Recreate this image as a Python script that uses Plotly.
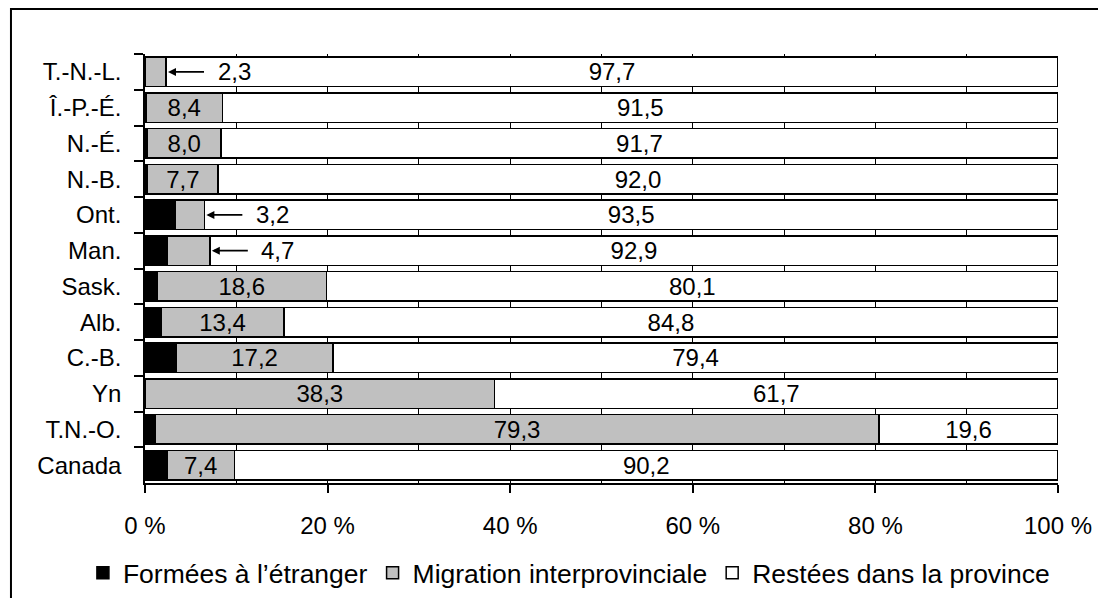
import plotly.graph_objects as go

# Provinces / territories, top to bottom
categories = ["T.-N.-L.", "Î.-P.-É.", "N.-É.", "N.-B.", "Ont.", "Man.",
              "Sask.", "Alb.", "C.-B.", "Yn", "T.N.-O.", "Canada"]

# Share of each group (%)
formees_etranger = [0.0, 0.1, 0.3, 0.3, 3.3, 2.4, 1.3, 1.8, 3.4, 0.0, 1.1, 2.4]
migration_interprov = [2.3, 8.4, 8.0, 7.7, 3.2, 4.7, 18.6, 13.4, 17.2, 38.3, 79.3, 7.4]
restees_province = [97.7, 91.5, 91.7, 92.0, 93.5, 92.9, 80.1, 84.8, 79.4, 61.7, 19.6, 90.2]

series_names = ["Formées à l’étranger", "Migration interprovinciale", "Restées dans la province"]
x_ticks = [0, 20, 40, 60, 80, 100]
x_tick_text = [f"{v} %" for v in x_ticks]

# Rows whose interprovincial share is too narrow to hold its label
callout_rows = ["T.-N.-L.", "Ont.", "Man."]

FONT = "Liberation Sans"
FS = 24
edge = dict(color="black", width=1.5)

fig = go.Figure()
fig.add_trace(go.Bar(
    y=categories, x=formees_etranger, name=series_names[0], orientation="h",
    marker=dict(color="black", line=edge), hoverinfo="x+y",
))
fig.add_trace(go.Bar(
    y=categories, x=migration_interprov, name=series_names[1], orientation="h",
    marker=dict(color="#c0c0c0", line=edge),
    texttemplate=["" if c in callout_rows else "%{x:.1f}" for c in categories],
    textposition="inside", insidetextanchor="middle", textangle=0,
    textfont=dict(family=FONT, size=FS, color="black"),
))
fig.add_trace(go.Bar(
    y=categories, x=restees_province, name=series_names[2], orientation="h",
    marker=dict(color="white", line=edge),
    texttemplate="%{x:.1f}",
    textposition="inside", insidetextanchor="middle", textangle=0,
    textfont=dict(family=FONT, size=FS, color="black"),
))

# Arrow call-outs for the narrow grey segments
for cat in callout_rows:
    i = categories.index(cat)
    end = formees_etranger[i] + migration_interprov[i]
    fig.add_annotation(
        x=end, y=cat, xref="x", yref="y",
        ax=68, ay=0,
        text=f"{migration_interprov[i]:.1f}".replace(".", ","),
        showarrow=True, arrowhead=2, arrowsize=1, arrowwidth=1.6,
        arrowcolor="black", standoff=2, startstandoff=12,
        font=dict(family=FONT, size=FS, color="black"),
    )

# Outer frame around the figure
fig.add_shape(type="rect", xref="paper", yref="paper",
              x0=-0.1468, x1=1.1, y0=-0.35, y1=1.105,
              line=dict(color="black", width=2), fillcolor="rgba(0,0,0,0)",
              layer="above")

fig.update_layout(
    width=1098, height=598,
    margin=dict(l=145, r=40, t=54, b=115, autoexpand=False),
    paper_bgcolor="white", plot_bgcolor="white",
    barmode="stack", bargap=0.17,
    separators=", ",
    font=dict(family=FONT, size=FS, color="black"),
    uniformtext=dict(minsize=FS, mode="show"),
    showlegend=True,
    legend=dict(orientation="h", x=-0.068, xanchor="left", y=-0.21, yanchor="middle",
                font=dict(family=FONT, size=26.5, color="black"),
                traceorder="normal", itemwidth=30, tracegroupgap=0,
                bgcolor="rgba(0,0,0,0)"),
)

fig.update_xaxes(
    range=[0, 100], tickvals=x_ticks, ticktext=x_tick_text,
    showline=True, linecolor="black", linewidth=1.5,
    ticks="outside", ticklen=8, tickwidth=1.5, tickcolor="black",
    ticklabelstandoff=12, automargin=False,
    showgrid=True, gridcolor="black", gridwidth=1,
    minor=dict(dtick=10, showgrid=True, gridcolor="black", gridwidth=1),
    zeroline=False, fixedrange=True,
)
fig.update_yaxes(
    categoryorder="array", categoryarray=categories, autorange="reversed",
    showline=True, linecolor="black", linewidth=1.5,
    ticks="outside", tickson="boundaries", ticklen=9, tickwidth=1.5, tickcolor="black",
    ticklabelstandoff=17, automargin=False,
    showgrid=False, zeroline=False, fixedrange=True,
)

fig.write_html("out.html")
